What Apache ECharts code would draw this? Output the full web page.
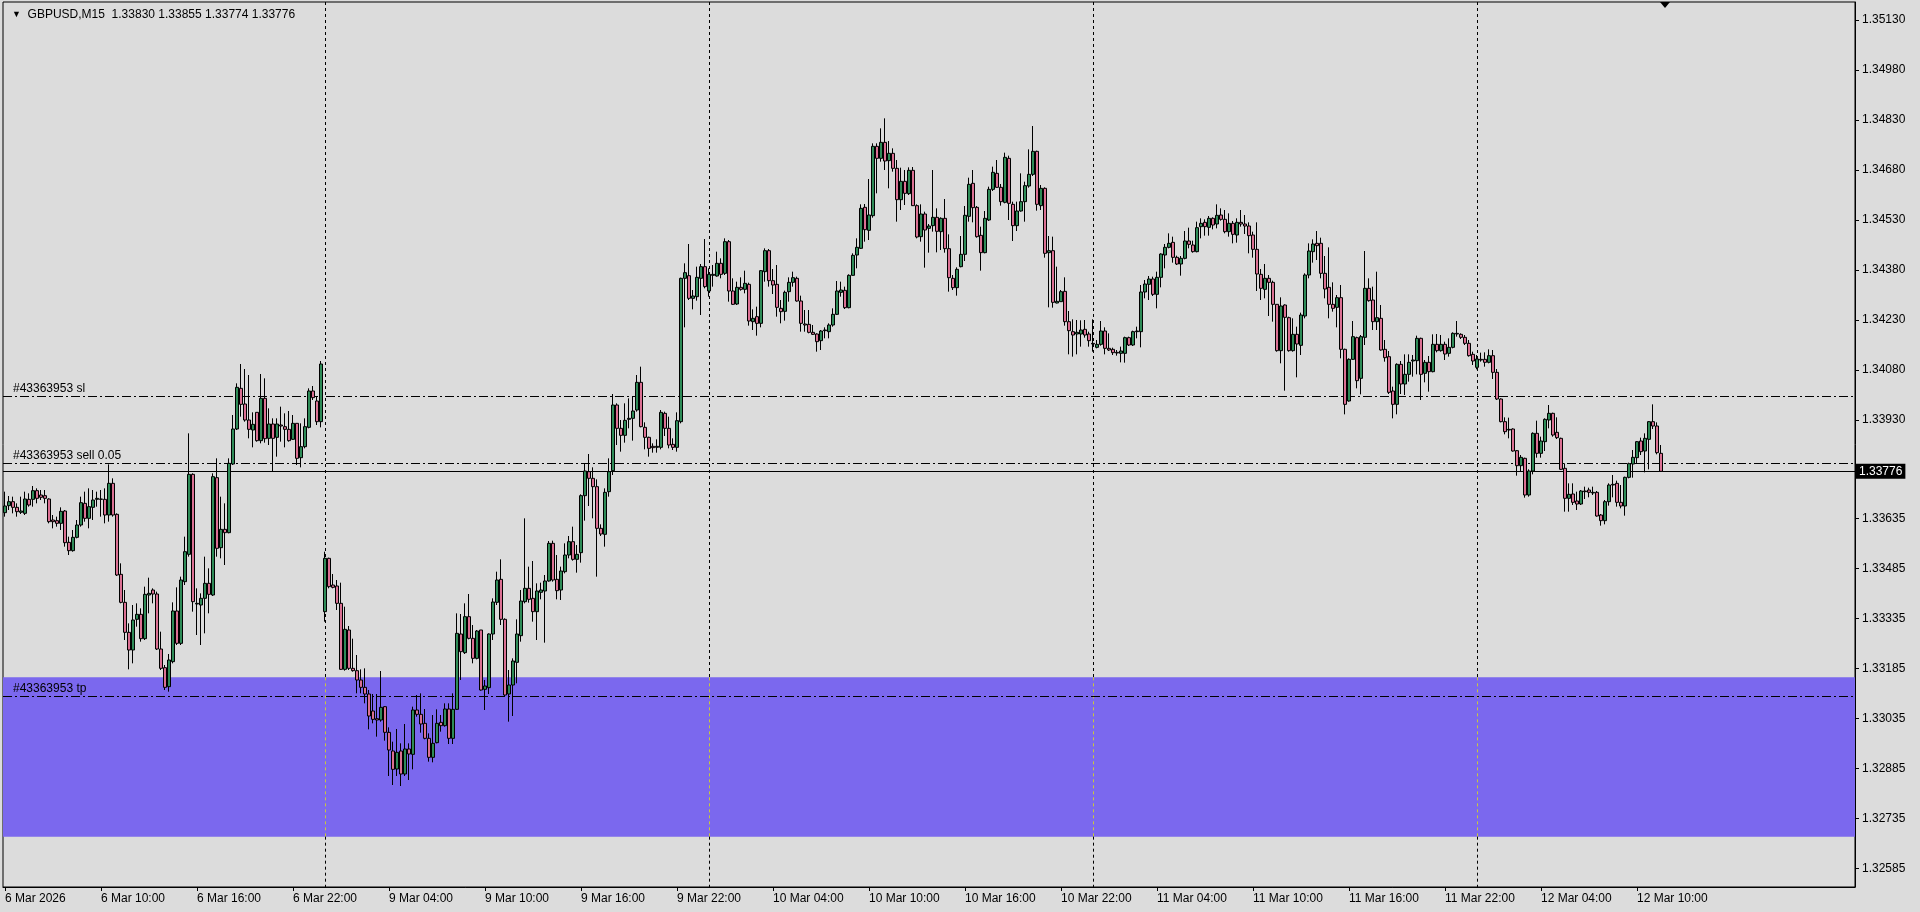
<!DOCTYPE html>
<html><head><meta charset="utf-8">
<script src="https://cdn.jsdelivr.net/npm/echarts@6/dist/echarts.min.js"></script>
<style>html,body{margin:0;padding:0;background:#dcdcdc;}#c{width:1920px;height:912px;}</style>
</head><body><div id="c"></div>
<script>
// ---------- texts ----------
const symbolText = 'GBPUSD,M15';
const lastOHLC = ['1.33830', '1.33855', '1.33774', '1.33776'];
const timeTickLabels = ['6 Mar 2026','6 Mar 10:00','6 Mar 16:00','6 Mar 22:00','9 Mar 04:00','9 Mar 10:00','9 Mar 16:00','9 Mar 22:00','10 Mar 04:00','10 Mar 10:00','10 Mar 16:00','10 Mar 22:00','11 Mar 04:00','11 Mar 10:00','11 Mar 16:00','11 Mar 22:00','12 Mar 04:00','12 Mar 10:00'];
const barsPerTimeTick = 24;
const priceTicks = [1.35130,1.34980,1.34830,1.34680,1.34530,1.34380,1.34230,1.34080,1.33930,1.33635,1.33485,1.33335,1.33185,1.33035,1.32885,1.32735,1.32585];
// ---------- trade levels ----------
const orderLines = [
  {name:'#43363953 sl', price:1.34000},
  {name:'#43363953 sell 0.05', price:1.33800},
  {name:'#43363953 tp', price:1.33100}
];
const bidPrice = 1.33776;
const tpZone = [1.32680, 1.33158];
const daySeparatorBars = [80, 176, 272, 368];
const chartShiftBar = 415;
// ---------- M15 candles [open, high, low, close] in points (1e-5) ----------
const fri6 = [
[133652,133715,133640,133672],[133673,133702,133660,133685],[133685,133700,133650,133668],[133668,133680,133640,133655],
[133653,133700,133648,133657],[133650,133715,133645,133693],[133692,133710,133670,133675],[133692,133732,133670,133718],
[133718,133725,133680,133695],[133705,133720,133690,133698],[133703,133720,133680,133695],[133693,133695,133620,133625],
[133630,133645,133605,133625],[133628,133640,133610,133620],[133620,133668,133600,133656],[133657,133660,133550,133562],
[133563,133580,133525,133538],[133538,133600,133535,133578],[133578,133630,133575,133615],[133615,133700,133610,133682],
[133680,133715,133625,133635],[133635,133725,133605,133670],[133668,133720,133630,133690],[133692,133715,133670,133695],
[133693,133720,133640,133692],[133692,133725,133620,133645],[133645,133797,133625,133740],[133740,133755,133640,133645],
[133647,133650,133462,133465],[133467,133500,133380,133383],[133383,133420,133270,133293],[133293,133320,133182,133240],
[133240,133375,133200,133330],[133332,133380,133310,133347],[133347,133365,133265,133274],[133274,133430,133270,133407],
[133405,133457,133350,133410],[133420,133425,133380,133408],[133408,133415,133240,133243],[133243,133295,133180,133185],
[133187,133195,133120,133128],[133130,133228,133115,133210],[133205,133383,133200,133357],[133357,133428,133255,133260],
[133260,133460,133255,133450],[133445,133580,133435,133535],[133527,133890,133520,133767],[133767,133770,133355,133385],
[133378,133425,133285,133380],[133375,133410,133255,133395],[133395,133520,133290,133440],[133440,133485,133350,133407],
[133405,133770,133402,133760],[133757,133815,133520,133545],[133547,133700,133515,133602],[133602,133680,133495,133592],
[133592,133815,133590,133800],[133798,133945,133795,133903],[133903,134040,133900,134028],[134025,134098,133940,133977],
[133978,134083,133925,133930],[133930,134065,133875,133902],[133900,133953,133848,133917],[133953,133953,133865,133868],
[133868,134068,133860,133995],[133995,134055,133862,133874],[133875,133965,133855,133918],[133918,133935,133775,133875],
[133878,133935,133820,133918],[133915,133970,133865,133912],[133910,133950,133848,133902],[133902,133957,133865,133868],
[133872,133945,133870,133920],[133920,133920,133795,133815],[133817,133920,133788,133850],[133850,133935,133845,133910],
[133908,134025,133905,134017],[134017,134032,133990,133997],[133987,134000,133915,133925],[133925,134107,133908,134098]
];
const mon9 = [
[133355,133535,133325,133515],[133515,133517,133425,133430],[133435,133468,133425,133428],[133432,133450,133360,133380],
[133380,133442,133180,133182],[133182,133370,133178,133302],[133300,133312,133180,133185],[133185,133274,133175,133178],
[133178,133225,133110,133150],[133150,133182,133110,133128],[133128,133185,133080,133108],[133108,133120,133002,133042],
[133057,133108,133020,133032],[133034,133108,132980,133030],[133030,133177,133025,133068],[133070,133072,132968,132993],
[132993,133008,132862,132940],[132937,132965,132835,132882],[132883,133003,132862,132933],[132937,132960,132832,132868],
[132868,133018,132862,132943],[132943,132960,132850,132928],[132927,133070,132882,133060],[133060,133105,133040,133047],
[133047,133110,132992,133018],[133020,133063,132972,132975],[132975,132990,132905,132918],[132918,133045,132903,132960],
[132962,133062,132960,133020],[133023,133045,132995,133013],[133013,133080,133010,133063],[133063,133080,132958,132975],
[132975,133110,132958,133062],[133062,133350,133060,133290],[133288,133348,133150,133235],[133232,133380,133228,133340],
[133340,133408,133272,133275],[133275,133315,133200,133215],[133215,133300,133212,133297],[133300,133300,133118,133120],
[133122,133150,133060,133132],[133127,133290,133108,133288],[133288,133395,133270,133384],[133383,133475,133375,133450],
[133452,133512,133315,133332],[133332,133335,133102,133105],[133108,133180,133025,133135],[133135,133215,133042,133207],
[133203,133332,133140,133288],[133283,133420,133265,133387],[133385,133635,133380,133425],[133425,133490,133382,133392],
[133395,133507,133325,133355],[133355,133440,133270,133417],[133413,133442,133392,133420],[133417,133465,133262,133447],
[133447,133567,133445,133560],[133560,133568,133445,133450],[133452,133525,133392,133418],[133420,133490,133390,133477],
[133475,133560,133470,133525],[133525,133582,133515,133565],[133565,133610,133508,133512],[133512,133555,133472,133527],
[133532,133707,133502,133703],[133703,133800,133628,133777],[133775,133828,133672,133755],[133755,133788,133635,133730],
[133730,133752,133460,133605],[133605,133617,133582,133588],[133587,133725,133550,133713],[133715,133815,133700,133775],
[133778,134008,133765,133975],[133975,133980,133855,133905],[133905,133930,133835,133884],[133884,133980,133862,133929],
[133932,133995,133905,133935],[133935,134000,133868,133957],[133960,134065,133955,134043],[134043,134090,133908,133910],
[133908,133923,133842,133878],[133878,133880,133820,133845],[133851,133860,133832,133847],[133848,133872,133832,133851],
[133848,133960,133842,133953],[133950,133955,133882,133905],[133905,133940,133845,133855],[133857,133875,133840,133848],
[133848,133953,133835,133928],[133925,134357,133920,134355],[134355,134400,134208,134372],[134363,134458,134290,134295],
[134295,134320,134262,134302],[134300,134390,134288,134358],[134355,134398,134245,134390],[134390,134473,134325,134330]
];
const tue10 = [
[134317,134385,134300,134367],[134364,134395,134330,134367],[134362,134435,134360,134400],[134400,134415,134355,134367],
[134370,134475,134365,134465],[134465,134470,134285,134317],[134317,134355,134275,134277],[134278,134345,134275,134328],
[134328,134358,134318,134322],[134322,134378,134310,134340],[134337,134342,134213,134227],[134225,134262,134200,134235],
[134240,134270,134183,134220],[134220,134380,134208,134378],[134375,134445,134345,134438],[134438,134443,134330,134348],
[134348,134383,134308,134335],[134337,134395,134240,134268],[134265,134290,134220,134255],[134256,134318,134228,134313],
[134315,134358,134285,134343],[134343,134375,134330,134357],[134355,134360,134285,134287],[134287,134303,134195,134220],
[134218,134260,134195,134215],[134217,134260,134190,134193],[134193,134215,134185,134187],[134188,134190,134135,134165],
[134168,134200,134140,134197],[134198,134208,134175,134200],[134195,134220,134175,134215],[134215,134265,134210,134247],
[134247,134347,134245,134317],[134313,134345,134300,134320],[134319,134330,134263,134267],[134267,134367,134265,134364],
[134364,134430,134363,134424],[134425,134475,134385,134448],[134445,134577,134443,134565],[134568,134578,134465,134501],
[134499,134653,134470,134545],[134543,134760,134537,134751],[134751,134760,134610,134715],[134715,134805,134705,134763],
[134763,134835,134680,134707],[134708,134767,134625,134730],[134730,134745,134675,134685],[134685,134710,134525,134591],
[134591,134687,134560,134646],[134646,134680,134575,134610],[134609,134688,134605,134679],[134679,134689,134572,134573],
[134573,134577,134475,134479],[134480,134577,134465,134548],[134548,134555,134387,134500],[134505,134518,134432,134512],
[134513,134680,134495,134538],[134538,134565,134433,134496],[134495,134538,134440,134535],[134535,134593,134432,134444],
[134444,134487,134315,134357],[134355,134365,134320,134327],[134327,134388,134303,134382],[134390,134482,134388,134427],
[134427,134572,134407,134544],[134541,134657,134525,134637],[134640,134680,134523,134567],[134568,134572,134477,134480],
[134484,134510,134378,134432],[134432,134557,134430,134535],[134530,134630,134527,134622],[134622,134690,134617,134673],
[134670,134710,134627,134628],[134628,134638,134573,134585],[134583,134732,134580,134718],[134715,134723,134530,134580],
[134577,134585,134467,134513],[134513,134585,134497,134557],[134557,134670,134555,134585],[134585,134645,134525,134633],
[134632,134742,134627,134667],[134667,134812,134662,134736],[134736,134738,134558,134577],[134573,134635,134560,134625],
[134625,134628,134417,134430],[134432,134482,134268,134438],[134438,134480,134267,134283],[134281,134390,134280,134286],
[134285,134320,134285,134315],[134316,134358,134213,134225],[134225,134257,134127,134198],[134195,134232,134120,134185],
[134188,134230,134127,134193],[134188,134229,134150,134200],[134202,134230,134177,134185],[134188,134195,134150,134168]
];
const wed11 = [
[134160,134232,134135,134158],[134148,134170,134145,134157],[134157,134227,134153,134197],[134197,134208,134127,134145],
[134145,134190,134137,134140],[134142,134147,134125,134132],[134133,134140,134123,134131],[134130,134150,134103,134137],
[134130,134180,134102,134177],[134177,134180,134152,134155],[134155,134198,134152,134195],[134195,134210,134175,134197],
[134195,134335,134148,134314],[134314,134350,134295,134338],[134337,134362,134290,134353],[134353,134360,134302,134307],
[134307,134375,134265,134358],[134358,134430,134328,134428],[134425,134458,134385,134448],[134448,134490,134445,134460],
[134463,134480,134402,134418],[134418,134423,134395,134398],[134398,134422,134363,134415],[134415,134497,134412,134467],
[134467,134507,134445,134457],[134455,134468,134432,134435],[134435,134525,134433,134507],[134510,134535,134475,134520],
[134523,134532,134483,134510],[134508,134542,134483,134535],[134535,134538,134502,134515],[134518,134577,134505,134544],
[134545,134565,134528,134532],[134532,134560,134490,134495],[134495,134550,134480,134520],[134520,134527,134460,134487],
[134485,134535,134462,134523],[134523,134560,134510,134518],[134518,134545,134488,134512],[134512,134523,134430,134483],
[134485,134495,134417,134442],[134442,134523,134317,134368],[134367,134383,134290,134325],[134322,134398,134295,134355],
[134355,134365,134242,134343],[134343,134348,134225,134277],[134277,134278,134135,134138],[134138,134298,134100,134272],
[134275,134277,134018,134238],[134237,134240,134135,134138],[134138,134235,134135,134187],[134187,134210,134058,134158],
[134154,134252,134125,134245],[134242,134370,134235,134365],[134365,134460,134355,134437],[134435,134472,134402,134458],
[134460,134497,134410,134453],[134460,134477,134355,134370],[134370,134422,134295,134323],[134328,134448,134235,134277],
[134277,134343,134255,134265],[134268,134305,134208,134297],[134297,134335,134115,134142],[134142,134144,133947,133977],
[133987,134115,133985,134112],[134112,134227,134110,134180],[134177,134180,134025,134048],[134055,134185,134007,134180],
[134178,134437,134155,134325],[134325,134355,134285,134288],[134290,134330,134200,134225],[134225,134375,134200,134237],
[134235,134275,134138,134140],[134142,134170,134105,134117],[134120,134137,134008,134013],[134017,134030,133935,133977],
[133977,134100,133947,134097],[134097,134107,134008,134038],[134038,134127,134005,134067],[134067,134127,134045,134103],
[134107,134125,134060,134110],[134108,134183,134067,134175],[134175,134177,133990,134067],[134070,134110,134043,134103],
[134103,134122,134015,134075],[134075,134187,134073,134157],[134157,134188,134133,134138],[134138,134185,134135,134157],
[134157,134165,134110,134128],[134130,134175,134120,134148],[134148,134193,134145,134190],[134188,134227,134180,134190],
[134187,134190,134173,134178],[134178,134185,134155,134160],[134160,134170,134120,134123],[134127,134135,134095,134107]
];
const thu12 = [
[134088,134125,134082,134113],[134112,134132,134105,134110],[134112,134133,134090,134103],[134103,134142,134100,134123],
[134123,134140,134053,134073],[134073,134083,133990,133993],[133993,133995,133923,133925],[133925,133938,133887,133895],
[133900,133937,133875,133902],[133903,133905,133835,133837],[133838,133840,133763,133793],[133793,133825,133777,133818],
[133815,133817,133697,133705],[133705,133782,133700,133777],[133777,133893,133767,133890],[133890,133928,133817,133830],
[133830,133880,133817,133867],[133865,133935,133837,133932],[133930,133975,133905,133950],[133950,133952,133880,133885],
[133893,133938,133873,133877],[133875,133877,133780,133782],[133785,133800,133655,133695],[133695,133740,133655,133707],
[133708,133740,133675,133683],[133687,133715,133660,133678],[133678,133720,133675,133717],[133715,133730,133693,133717],
[133720,133727,133698,133713],[133711,133730,133705,133713],[133713,133717,133640,133642],[133645,133648,133613,133628],
[133628,133690,133617,133685],[133685,133740,133673,133735],[133735,133765,133698,133737],[133740,133748,133670,133683],
[133683,133735,133665,133672],[133672,133760,133643,133758],[133758,133802,133755,133799],[133798,133840,133757,133818],
[133817,133867,133800,133865],[133867,133877,133825,133835],[133837,133890,133773,133875],[133872,133927,133782,133925],
[133925,133977,133903,133912],[133912,133923,133827,133832],[133830,133855,133774,133776]
];

// ---------- build ----------
const FONT = 'Liberation Sans, Arial, sans-serif';
const yMin = 1.32529, yMax = 1.35184;   // visible price range
const slotCount = 463;                   // bar slots across the window (chart shift on the right)
const candles = [].concat(fri6, mon9, tue10, wed11, thu12);
const ohlcData = candles.map(c => [c[0] / 1e5, c[3] / 1e5, c[2] / 1e5, c[1] / 1e5]); // echarts: [open, close, low, high]
const cats = Array.from({length: slotCount}, (_, i) => String(i));
const isTimeTick = (i) => i % barsPerTimeTick === 0 && i / barsPerTimeTick < timeTickLabels.length;

const sepSegments = [];
daySeparatorBars.forEach(b => {
  const x = String(b);
  sepSegments.push([{coord: [x, yMax]}, {coord: [x, tpZone[1]]}]);
  sepSegments.push([{coord: [x, tpZone[1]], lineStyle: {color: '#c8c83c'}}, {coord: [x, tpZone[0]]}]);
  sepSegments.push([{coord: [x, tpZone[0]]}, {coord: [x, yMin]}]);
});

const lineData = orderLines.map(o => ({
  name: o.name, yAxis: o.price,
  lineStyle: {type: [9, 3, 2, 3], color: '#000', width: 1},
  label: {show: true, position: 'insideStartTop', formatter: '{b}', color: '#000', fontSize: 12, fontFamily: FONT, distance: [10, 2]}
}));
lineData.push({
  name: 'bid', yAxis: bidPrice,
  lineStyle: {type: 'solid', color: '#000', width: 1},
  label: {show: true, position: 'end', formatter: bidPrice.toFixed(5), color: '#fff', backgroundColor: '#000',
          padding: [2, 3, 1, 3], fontSize: 12, fontFamily: FONT, distance: 1}
});

const chart = echarts.init(document.getElementById('c'), null, {renderer: 'canvas'});
chart.setOption({
  animation: false,
  backgroundColor: '#dcdcdc',
  title: {
    left: 7, top: 4,
    text: '{t|▼}  ' + symbolText + '  ' + lastOHLC.join(' '),
    textStyle: {fontSize: 12, fontWeight: 'normal', color: '#000', fontFamily: FONT,
      rich: {t: {fontSize: 9, color: '#000'}}}
  },
  grid: {left: 3, right: 65, top: 2, bottom: 25, show: true, borderColor: '#000', borderWidth: 1,
         backgroundColor: '#dcdcdc', containLabel: false, outerBoundsMode: 'none'},
  xAxis: {
    type: 'category', data: cats, boundaryGap: true,
    axisLine: {show: true, lineStyle: {color: '#000', width: 1}},
    axisTick: {show: true, alignWithLabel: true, interval: (i) => isTimeTick(i), length: 4, lineStyle: {color: '#000'}},
    axisLabel: {show: true, interval: (i) => isTimeTick(i), hideOverlap: false,
      formatter: (v, i) => timeTickLabels[i / barsPerTimeTick],
      align: 'left', color: '#000', fontSize: 12, fontFamily: FONT, margin: 6},
    splitLine: {show: false}
  },
  yAxis: {
    type: 'value', position: 'right', min: yMin, max: yMax, scale: true,
    axisLine: {show: true, lineStyle: {color: '#000', width: 1}},
    axisTick: {show: true, customValues: priceTicks, length: 4, lineStyle: {color: '#000'}},
    axisLabel: {show: true, customValues: priceTicks, formatter: (v) => v.toFixed(5), color: '#000',
      fontSize: 12, fontFamily: FONT, margin: 7, hideOverlap: false},
    splitLine: {show: false}
  },
  series: [
    {
      name: 'tpZone', type: 'line', data: [], z: 1, silent: true,
      markArea: {silent: true, precision: 5, itemStyle: {color: '#7b68ee', opacity: 1}, data: [[{yAxis: tpZone[1]}, {yAxis: tpZone[0]}]]}
    },
    {
      name: 'separators', type: 'line', data: [], z: 2, silent: true,
      markLine: {silent: true, precision: 5, symbol: ['none', 'none'], label: {show: false},
        lineStyle: {type: [3, 3], color: '#000', width: 1}, data: sepSegments}
    },
    {
      name: 'orders', type: 'line', data: [], z: 4, silent: true,
      markLine: {silent: true, precision: 5, symbol: ['none', 'none'], data: lineData}
    },
    {
      name: 'GBPUSD', type: 'candlestick', data: ohlcData, z: 5, barWidth: 3, silent: true,
      itemStyle: {color: '#2e8b57', color0: '#db7093', borderColor: '#000', borderColor0: '#000',
                  borderColorDoji: '#000', borderWidth: 1},
      markPoint: {silent: true, symbol: 'triangle', symbolRotate: 180, symbolSize: [10, 6], symbolOffset: [0, 3],
        itemStyle: {color: '#000'}, label: {show: false},
        data: [{coord: [String(chartShiftBar), yMax]}]}
    }
  ]
});
</script></body></html>
